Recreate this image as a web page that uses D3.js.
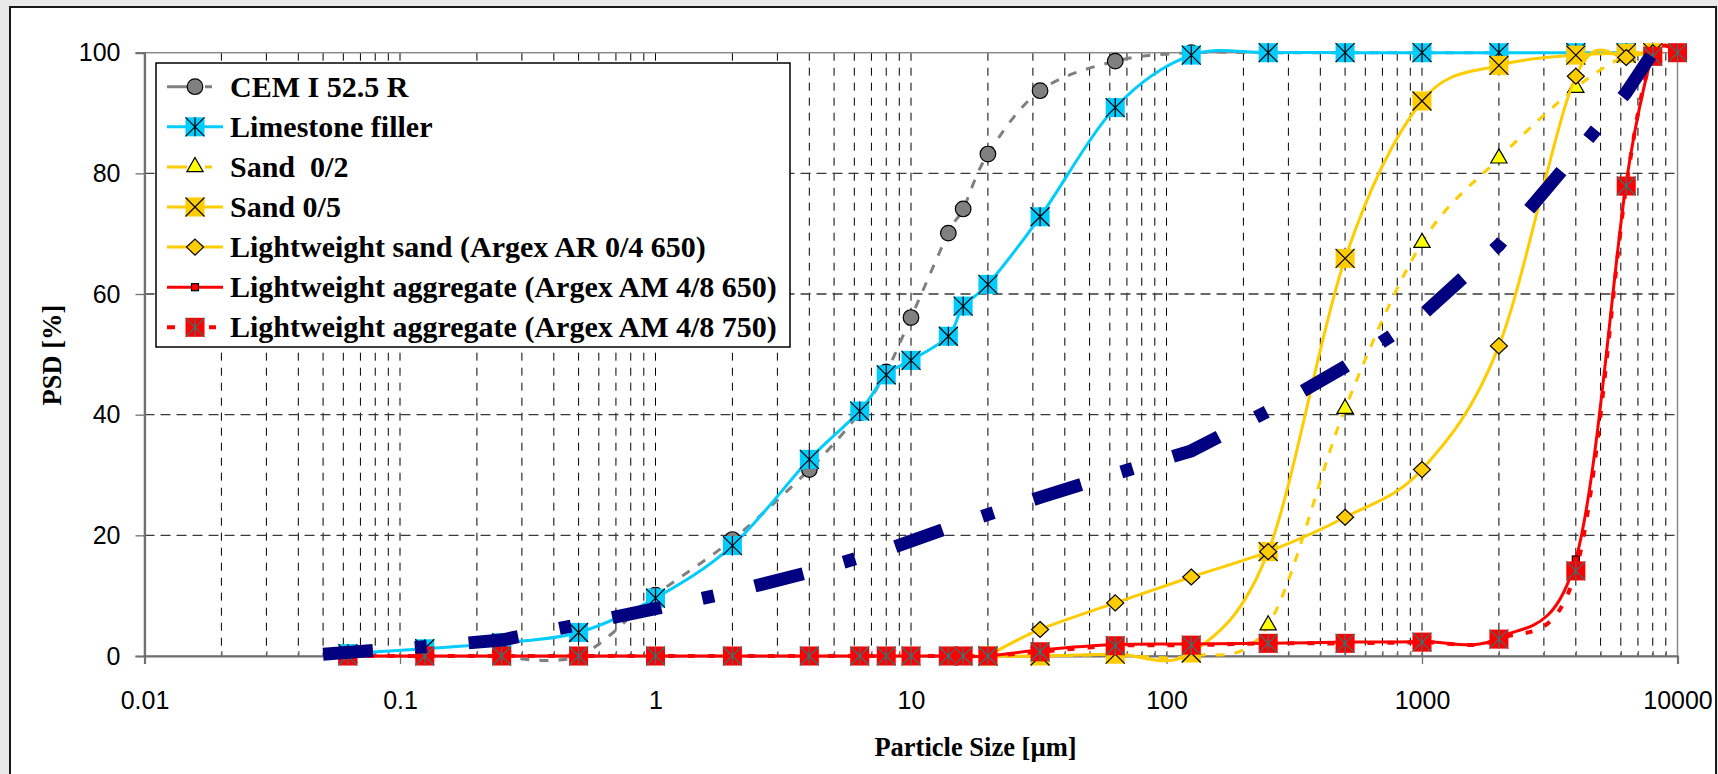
<!DOCTYPE html>
<html>
<head>
<meta charset="utf-8">
<script src="https://cdn.jsdelivr.net/npm/d3@7.9.0/dist/d3.min.js"></script>
<style>
  html, body { margin: 0; padding: 0; background: #e9e9e9; }
  svg { display: block; }
  .tick text { font-family: "Liberation Sans", Arial, sans-serif; font-size: 25px; fill: #000; }
  .axis-title, .legend-label { font-family: "Liberation Serif", "Times New Roman", serif; font-weight: bold; fill: #000; }
</style>
</head>
<body>
<svg id="chart" width="1718" height="774"></svg>
<script>
// sieve sizes in µm, PSD in % passing
const sieveSizes = [0.0625, 0.125, 0.25, 0.5, 1, 2, 4, 6.3, 8, 10, 14, 16, 20,
  32, 63, 125, 250, 500, 1000, 2000, 4000, 6300, 8000, 10000];

const cemSizes = [0.25, 0.5, 1, 2, 4, 6.3, 8, 10, 14, 16, 20, 32, 63, 125, 250, 500, 1000, 2000];
const cemPsd = [0, 0, 10.1, 19.3, 30.9, 40.3, 47.1, 56.1, 70.1, 74.1, 83.2, 93.7, 98.6, 100, 100, 100, 100, 100];

const limestoneSizes = [0.0625, 0.125, 0.25, 0.5, 1, 2, 4, 6.3, 8, 10, 14, 16, 20, 32, 63, 125, 250, 500, 1000, 2000, 4000, 6300];
const limestonePsd = [0.4, 1.2, 2.2, 3.9, 9.6, 18.3, 32.6, 40.6, 46.6, 49.0, 53.0, 58.0, 61.6, 72.8, 90.9, 99.6, 100, 100, 100, 100, 100, 100];

const sandSizes = [20, 32, 63, 125, 250, 500, 1000, 2000, 4000, 6300, 8000];
const sand02Psd = [0, 0, 0.2, 0, 5.1, 41.0, 68.5, 82.5, 94.2, 99.5, 100];
const sand05Psd = [0, 0, 0.3, 0.5, 17.3, 65.9, 92.0, 97.9, 99.6, 99.9, 100];
const lwSandPsd = [0, 4.4, 8.8, 13.1, 17.3, 23.0, 30.9, 51.4, 96.1, 99.2, 100];

const lwa650Sizes = sieveSizes.slice(0, 23);
const lwa650Psd = [0, 0, 0, 0, 0, 0, 0, 0, 0, 0, 0, 0, 0,
  1.0, 1.9, 2.0, 2.1, 2.3, 2.4, 3.0, 16.0, 78.5, 100];
const lwa750Psd = [0, 0, 0, 0, 0, 0, 0, 0, 0, 0, 0, 0, 0,
  0.7, 1.7, 1.8, 2.1, 2.1, 2.3, 2.8, 14.1, 77.9, 99.4, 100];

// reference grading curve (thick navy dash-dot, not in legend)
const refSizes = [0.05, 0.0625, 0.125, 0.25, 0.5, 1, 2, 4, 8, 16, 32, 63, 125, 250, 500, 1000, 2000, 4000, 6300, 8000];
const refPsd = [0.3, 0.6, 1.55, 2.65, 5.2, 7.85, 10.65, 13.9, 17.6, 22.1, 26.3, 30.2, 34.0, 40.6, 47.95, 56.5, 68.1, 83.2, 93.4, 100];

const xTickValues = [0.01, 0.1, 1, 10, 100, 1000, 10000];

const series = [
  { name: 'CEM I 52.5 R', sizes: cemSizes, psd: cemPsd, color: '#808080', width: 3, dash: '9,10', legendDash: '20,18,7,20', marker: 'circle' },
  { name: 'Limestone filler', sizes: limestoneSizes, psd: limestonePsd, color: '#00CCFF', width: 3, dash: null, legendDash: null, marker: 'cyanStar' },
  { name: 'Sand  0/2', sizes: sandSizes, psd: sand02Psd, color: '#FFCC00', width: 3, dash: '9,10', legendDash: '20,18,7,20', marker: 'triangle' },
  { name: 'Sand 0/5', sizes: sandSizes, psd: sand05Psd, color: '#FFCC00', width: 3, dash: null, legendDash: null, marker: 'orangeX' },
  { name: 'Lightweight sand (Argex AR 0/4 650)', sizes: sandSizes, psd: lwSandPsd, color: '#FFCC00', width: 3, dash: null, legendDash: null, marker: 'diamond' },
  { name: 'Lightweight aggregate (Argex AM 4/8 650)', sizes: lwa650Sizes, psd: lwa650Psd, color: '#FF0000', width: 3, dash: null, legendDash: null, marker: 'smallSquare' },
  { name: 'Lightweight aggregate (Argex AM 4/8 750)', sizes: sieveSizes, psd: lwa750Psd, color: '#FF0000', width: 4, dash: '7,13', legendDash: '8,34,7,20', marker: 'redStar' }
];

const svg = d3.select('#chart');

const x = d3.scaleLog().domain([0.01, 10000]).range([144.5, 1677.5]);
const y = d3.scaleLinear().domain([0, 100]).range([656, 52.7]);

// white slide frame
svg.append('rect')
  .attr('x', 10).attr('y', 7).attr('width', 1706).attr('height', 800)
  .attr('fill', '#fff').attr('stroke', '#1a1a1a').attr('stroke-width', 2);

// grid
const minorValues = x.ticks().filter((v) => v > 0.011 && v < 9999);
svg.append('g')
  .selectAll('line')
  .data(minorValues)
  .join('line')
  .attr('x1', (d) => x(d)).attr('x2', (d) => x(d))
  .attr('y1', y(100)).attr('y2', y(0))
  .attr('stroke', '#000').attr('stroke-width', 1)
  .attr('stroke-dasharray', '8,7');

svg.append('g')
  .selectAll('line')
  .data(y.ticks(5).filter((v) => v > 0 && v < 100))
  .join('line')
  .attr('x1', x(0.01)).attr('x2', x(10000))
  .attr('y1', (d) => y(d)).attr('y2', (d) => y(d))
  .attr('stroke', '#3a3a3a').attr('stroke-width', 1.3)
  .attr('stroke-dasharray', '10,6');

// plot area border
svg.append('rect')
  .attr('x', x(0.01)).attr('y', y(100))
  .attr('width', x(10000) - x(0.01)).attr('height', y(0) - y(100))
  .attr('fill', 'none').attr('stroke', '#8a8a8a').attr('stroke-width', 1.5);

// axes
const yAxisG = svg.append('g')
  .attr('transform', `translate(${x(0.01)},0)`)
  .call(d3.axisLeft(y).ticks(5).tickSize(9).tickPadding(15));

const xMinorG = svg.append('g')
  .attr('transform', `translate(0,${y(0)})`)
  .call(d3.axisBottom(x).tickValues(minorValues).tickSize(-5).tickFormat(''));

const xAxisG = svg.append('g')
  .attr('transform', `translate(0,${y(0)})`)
  .call(d3.axisBottom(x).tickValues(xTickValues).tickFormat(d3.format('~g')).tickSize(8).tickPadding(27));

[yAxisG, xAxisG, xMinorG].forEach((g) => {
  g.select('.domain').attr('stroke', '#707070').attr('stroke-width', 2.2);
  g.selectAll('.tick line').attr('stroke', '#707070').attr('stroke-width', 1.3);
});
xMinorG.select('.domain').remove();

// markers
function drawMarker(g, type) {
  const h = 9.5;
  if (type === 'circle') {
    g.append('circle').attr('r', 7.8).attr('fill', '#808080').attr('stroke', '#000').attr('stroke-width', 1.2);
  } else if (type === 'cyanStar' || type === 'redStar' || type === 'orangeX') {
    const fill = type === 'cyanStar' ? '#00CCFF' : type === 'redStar' ? '#FF0000' : '#FFCC00';
    const ink = type === 'redStar' ? '#347474' : '#000';
    g.append('rect').attr('x', -h).attr('y', -h).attr('width', 2 * h).attr('height', 2 * h).attr('fill', fill);
    const star = `M${-h},${-h}L${h},${h}M${h},${-h}L${-h},${h}` + (type === 'orangeX' ? '' : `M0,${-h}L0,${h}`);
    g.append('path').attr('d', star).attr('stroke', ink).attr('stroke-width', 1.2).attr('fill', 'none');
  } else if (type === 'triangle') {
    g.append('path').attr('d', d3.symbol(d3.symbolTriangle, 115)())
      .attr('fill', '#FFFF00').attr('stroke', '#000').attr('stroke-width', 1.2);
  } else if (type === 'diamond') {
    g.append('path').attr('d', 'M0,-8L8.5,0L0,8L-8.5,0Z')
      .attr('fill', '#FFCC00').attr('stroke', '#000').attr('stroke-width', 1.2);
  } else if (type === 'smallSquare') {
    g.append('rect').attr('x', -3.5).attr('y', -3.5).attr('width', 7).attr('height', 7)
      .attr('fill', '#FF0000').attr('stroke', '#000').attr('stroke-width', 1.2);
  }
}

const line = d3.line()
  .x((d) => x(d[0]))
  .y((d) => y(d[1]))
  .curve(d3.curveCardinal.tension(0));

series.forEach((s) => {
  const pts = s.sizes.map((v, i) => [v, s.psd[i]]);
  const g = svg.append('g');
  g.append('path')
    .attr('d', line(pts))
    .attr('fill', 'none')
    .attr('stroke', s.color)
    .attr('stroke-width', s.width)
    .attr('stroke-dasharray', s.dash);
  g.selectAll('g.mk')
    .data(pts)
    .join('g')
    .attr('class', 'mk')
    .attr('transform', (d) => `translate(${x(d[0])},${y(d[1])})`)
    .each(function () { drawMarker(d3.select(this), s.marker); });
});

// reference curve
const refLine = d3.line().x((d) => x(d[0])).y((d) => y(d[1]));
svg.append('path')
  .attr('d', refLine(refSizes.map((v, i) => [v, refPsd[i]])))
  .attr('fill', 'none')
  .attr('stroke', '#000080')
  .attr('stroke-width', 13)
  .attr('stroke-dasharray', '50,42,12,42');

// legend
const legend = svg.append('g');
legend.append('rect')
  .attr('x', 156).attr('y', 63).attr('width', 634).attr('height', 284)
  .attr('fill', '#fff').attr('stroke', '#000').attr('stroke-width', 1.5);

series.forEach((s, i) => {
  const cy = 86.7 + i * 40.1;
  legend.append('line')
    .attr('x1', 167).attr('x2', 223).attr('y1', cy).attr('y2', cy)
    .attr('stroke', s.color).attr('stroke-width', s.width)
    .attr('stroke-dasharray', s.legendDash);
  drawMarker(legend.append('g').attr('transform', `translate(195,${cy})`), s.marker);
  legend.append('text')
    .attr('class', 'legend-label')
    .attr('x', 230).attr('y', cy + 10)
    .style('font-size', '30px')
    .style('white-space', 'pre')
    .text(s.name);
});

// axis titles
svg.append('text')
  .attr('class', 'axis-title')
  .attr('transform', 'translate(61,355) rotate(-90)')
  .attr('text-anchor', 'middle')
  .style('font-size', '26.5px')
  .text('PSD [%]');

svg.append('text')
  .attr('class', 'axis-title')
  .attr('x', 975.5).attr('y', 756)
  .attr('text-anchor', 'middle')
  .style('font-size', '26.5px')
  .text('Particle Size [µm]');
</script>
</body>
</html>
